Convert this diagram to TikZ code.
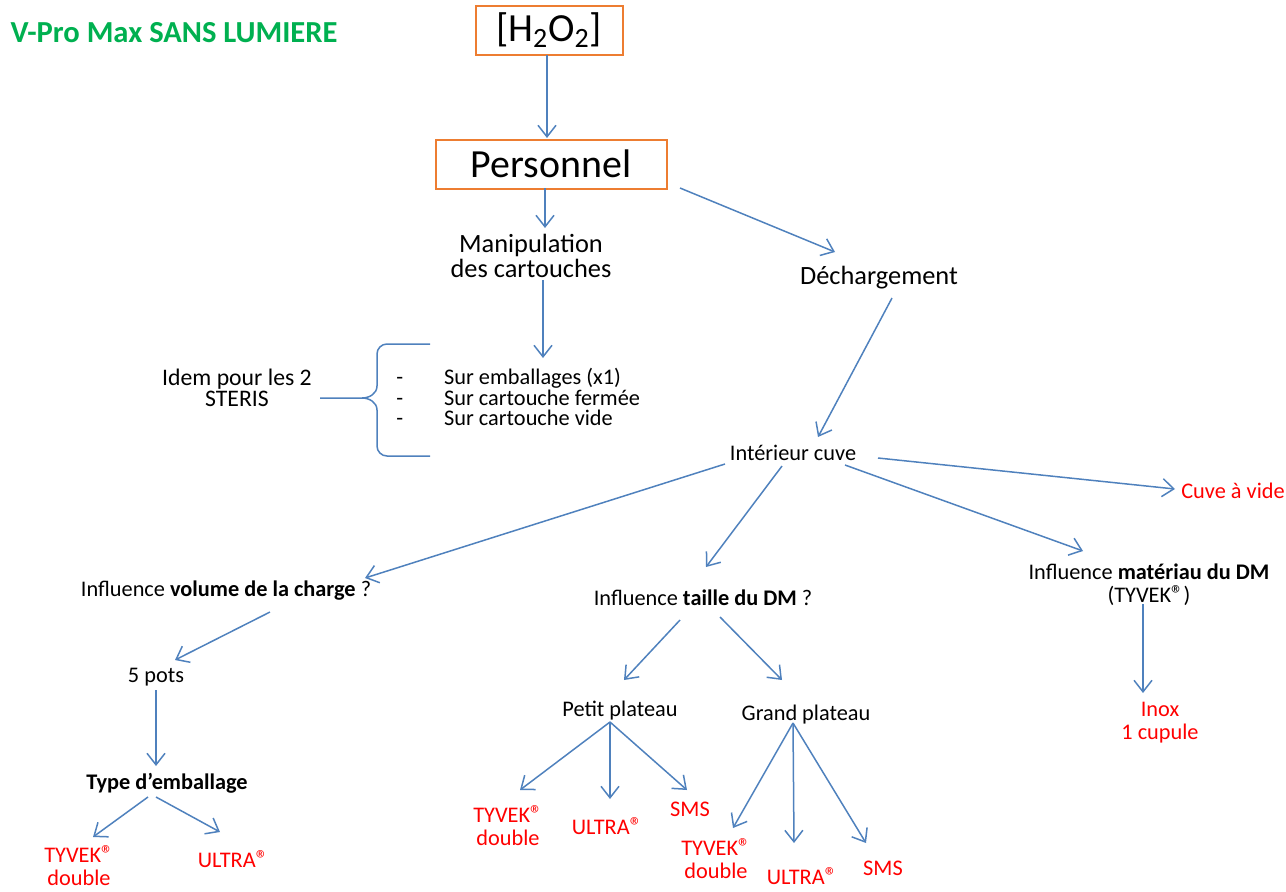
\documentclass[tikz,border=0pt]{standalone}
\usepackage{fontspec}
\setmainfont{Carlito}
\usepackage{tikz}
\usetikzlibrary{arrows.meta,calc}
\definecolor{arrowblue}{RGB}{79,129,189}
\definecolor{boxorange}{RGB}{237,125,49}
\definecolor{labelred}{RGB}{255,0,0}
\definecolor{titlegreen}{RGB}{0,176,80}
\newcommand{\regmark}{\raisebox{0pt}[0pt][0pt]{\fontsize{14}{14}\selectfont ®}}

\begin{document}
\begin{tikzpicture}[
    x=0.2mm, y=-0.2mm,
    box/.style={rectangle, draw=boxorange, line width=0.4mm, minimum width=#1, minimum height=9.8mm, inner sep=0pt, font=\fontsize{22.7}{24}\selectfont},
    txt/.style={inner sep=0pt, align=center, font=\fontsize{12.7}{13}\selectfont},
    big/.style={inner sep=0pt, align=center, font=\fontsize{15}{14.4}\selectfont},
    res/.style={txt, text=labelred},
    arr/.style={draw=arrowblue, line width=0.3mm, -{Straight Barb[length=2.3mm,width=3.6mm]}}
]
\useasboundingbox (0,0) rectangle (1286,891);

% Title and top boxes
\node[inner sep=0pt, text=titlegreen, font=\fontsize{17.4}{18}\selectfont\bfseries] (title) at (174,33) {V-Pro Max SANS LUMIERE};
\node[box=29.4mm] (h2o2) at (549,30) {[H\textsubscript{2}O\textsubscript{2}]};
\node[box=46.2mm] (pers) at (551,164) {Personnel};

% Second level
\node[big] (manip) at (531,256) {Manipulation\\des cartouches};
\node[big] (dech) at (879,278) {Déchargement};

% Cartridge list with brace
\node[txt, font=\fontsize{13.5}{12}\selectfont] (idem) at (237,388) {Idem pour les 2\\STERIS};
\node[txt, anchor=west, align=left, font=\fontsize{12.7}{11.6}\selectfont] (list) at (396,397) {-\hspace{8.2mm}Sur emballages (x1)\\-\hspace{8.2mm}Sur cartouche fermée\\-\hspace{8.2mm}Sur cartouche vide};
\draw[arrowblue, line width=0.3mm] (430,344) -- (387,344) to[out=180,in=90] (377,354) -- (377,386)
    to[out=270,in=0] (362,398) -- (320,398) -- (362,398) to[out=0,in=90] (377,410) -- (377,446)
    to[out=270,in=180] (387,456) -- (430,456);

% Tank
\node[txt] (ic) at (793,453) {Intérieur cuve};
\node[res] (cv) at (1233,491) {Cuve à vide};
\node[txt] (iv) at (226,591) {Influence \textbf{volume de la charge} ?};
\node[txt] (it) at (703,598) {Influence \textbf{taille du DM} ?};
\node[txt] (im) at (1149,585) {Influence \textbf{matériau du DM}\\(TYVEK\regmark)};
\node[res] (inox) at (1160,723) {Inox\\1 cupule};

% Load volume branch
\node[txt] (pots) at (156,677) {5 pots};
\node[txt, font=\fontsize{12.7}{13}\selectfont\bfseries] (type) at (167,783) {Type d’emballage};
\node[res] (tyA) at (79,867) {TYVEK\regmark\\double};
\node[res] (ulA) at (233,860) {ULTRA\regmark};

% Size branch
\node[txt] (pp) at (620,711) {Petit plateau};
\node[txt] (gp) at (806,715) {Grand plateau};
\node[res] (tyB) at (508,827) {TYVEK\regmark\\double};
\node[res] (ulB) at (607,827) {ULTRA\regmark};
\node[res] (smsB) at (690,809) {SMS};
\node[res] (tyC) at (716,860) {TYVEK\regmark\\double};
\node[res] (ulC) at (802,877) {ULTRA\regmark};
\node[res] (smsC) at (883,868) {SMS};

% Arrows
\draw[arr] ($(h2o2)+(-2,25)$) -- ($(pers)+(-4,-26)$);
\draw[arr] ($(pers)+(-6,24)$) -- ($(manip)+(14,-28)$);
\draw[arr] ($(pers)+(129,24)$) -- ($(dech)+(-44,-26)$);
\draw[arr] ($(manip)+(12,24)$) -- ($(list.west)+(147,-39)$);
\draw[arr] ($(dech)+(13,20)$) -- ($(ic)+(25,-16)$);
\draw[arr] ($(ic)+(85,5)$) -- ($(cv)+(-58,-2)$);
\draw[arr] ($(ic)+(52,12)$) -- ($(im)+(-66,-34)$);
\draw[arr] ($(ic)+(-11,13)$) -- ($(it)+(3,-31)$);
\draw[arr] ($(ic)+(-68,11)$) -- ($(iv)+(139,-13)$);
\draw[arr] ($(iv)+(44,21)$) -- ($(pots)+(19,-17)$);
\draw[arr] ($(pots)+(0,13)$) -- ($(type)+(-11,-17)$);
\draw[arr] ($(type)+(-19,14)$) -- ($(tyA)+(14,-30)$);
\draw[arr] ($(type)+(-11,14)$) -- ($(ulA)+(-13,-28)$);
\draw[arr] ($(it)+(-23,22)$) -- ($(pp)+(4,-31)$);
\draw[arr] ($(it)+(17,19)$) -- ($(gp)+(-24,-35)$);
\draw[arr] ($(pp)+(-10,11)$) -- ($(tyB)+(12,-37)$);
\draw[arr] ($(pp)+(-10,11)$) -- ($(ulB)+(3,-28)$);
\draw[arr] ($(pp)+(-10,11)$) -- ($(smsB)+(-3,-19)$);
\draw[arr] ($(gp)+(-13,8)$) -- ($(tyC)+(17,-32)$);
\draw[arr] ($(gp)+(-13,8)$) -- ($(ulC)+(-8,-34)$);
\draw[arr] ($(gp)+(-13,8)$) -- ($(smsC)+(-17,-25)$);
\draw[arr] ($(im)+(-6,19)$) -- ($(inox)+(-17,-30)$);

\end{tikzpicture}
\end{document}
